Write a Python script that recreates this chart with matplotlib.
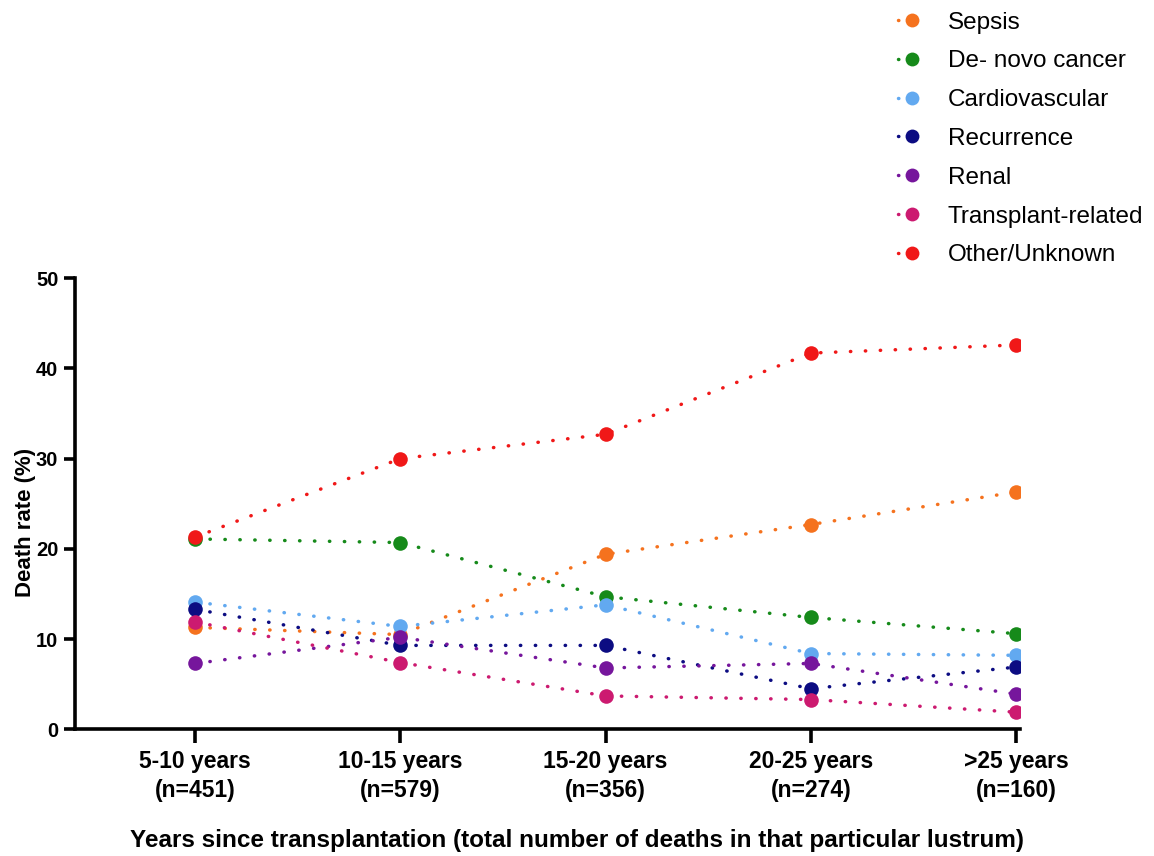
import matplotlib
matplotlib.use("Agg")
import matplotlib.pyplot as plt
import numpy as np

plt.rcParams["font.family"] = ["Liberation Sans", "DejaVu Sans"]

# ── data ──────────────────────────────────────────────────────────────────────
periods = ["5-10 years\n(n=451)", "10-15 years\n(n=579)", "15-20 years\n(n=356)",
           "20-25 years\n(n=274)", ">25 years\n(n=160)"]

causes = ["Sepsis", "De- novo cancer", "Cardiovascular", "Recurrence",
          "Renal", "Transplant-related", "Other/Unknown"]

sepsis         = [11.3, 10.5, 19.4, 22.7, 26.3]
denovo_cancer  = [21.1, 20.7, 14.7, 12.4, 10.6]
cardiovascular = [14.1, 11.4, 13.8, 8.4, 8.2]
recurrence     = [13.3, 9.3, 9.3, 4.5, 6.9]
renal          = [7.3, 10.2, 6.8, 7.3, 3.9]
transplant_rel = [11.9, 7.4, 3.7, 3.3, 1.9]
other_unknown  = [21.3, 30.0, 32.7, 41.7, 42.6]

series = [sepsis, denovo_cancer, cardiovascular, recurrence,
          renal, transplant_rel, other_unknown]
colors = ["#F5721E", "#168A1A", "#62A9F0", "#0C0C82",
          "#76169C", "#CC1A70", "#F01818"]

# ── plot ──────────────────────────────────────────────────────────────────────
fig = plt.figure(figsize=(11.54, 8.56), dpi=100)
ax = fig.add_axes([0.065, 0.148, 0.819, 0.527])

x = np.arange(len(periods))
handles = []
for vals, col, name in zip(series, colors, causes):
    line, = ax.plot(x, vals, color=col, lw=2.5, dashes=(0.1, 4.2),
                    dash_capstyle="round", marker="o", markersize=10.5,
                    markeredgewidth=0, label=name)
    handles.append(line)

ax.set_xlim(-0.585, 4.02)
ax.set_ylim(0, 50)
ax.set_yticks([0, 10, 20, 30, 40, 50])
ax.set_xticks(x)
ax.set_xticklabels(periods, fontsize=16.5, fontweight="bold", linespacing=1.3)
for lab in ax.get_yticklabels():
    lab.set_fontsize(14.5)
    lab.set_fontweight("bold")

for side in ("top", "right"):
    ax.spines[side].set_visible(False)
for side in ("left", "bottom"):
    ax.spines[side].set_linewidth(2.6)
ax.tick_params(axis="both", width=2.6, length=8, pad=4)
ax.tick_params(axis="x", length=10, pad=5)

ax.set_ylabel("Death rate (%)", fontsize=16, fontweight="bold")
ax.yaxis.set_label_coords(-0.041, 0.459)
ax.set_xlabel("Years since transplantation (total number of deaths in that particular lustrum)",
              fontsize=17.5, fontweight="bold")
ax.xaxis.set_label_coords(0.531, -0.222)

fig.legend(handles=handles, loc="upper left", bbox_to_anchor=(0.759, 1.012),
           frameon=False, fontsize=17.5, handlelength=1.2, handletextpad=0.85,
           labelspacing=0.69, markerscale=0.95)

fig.savefig("out.png", dpi=100)
